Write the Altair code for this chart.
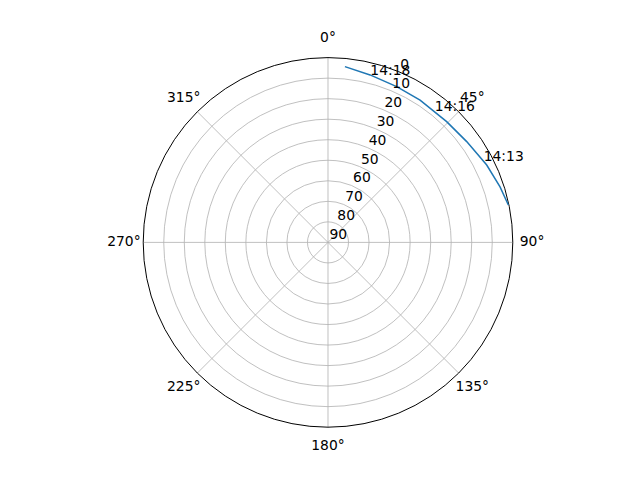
import altair as alt
import pandas as pd

# ---- data ----
# satellite track: azimuth (deg, clockwise from north) and elevation (deg)
track_az = [78.3, 72.1, 64.0, 54.0, 44.5, 32.9, 23.8, 14.1, 5.5]
track_el = [0.3, 1.95, 4.0, 6.5, 7.55, 7.45, 7.1, 5.9, 4.0]

# time annotations along the track
time_labels = ["14:13", "14:16", "14:18"]
time_az = [62.5, 39.2, 14.2]
time_el = [4.5, 7.7, 6.0]

# grid
ring_elevs = [80, 70, 60, 50, 40, 30, 20, 10]
r_tick_values = [0, 10, 20, 30, 40, 50, 60, 70, 80, 90]
theta_ticks = [0, 45, 90, 135, 180, 225, 270, 315]

# ---- layout constants ----
W = 369.6
R_PX = W / 2
FONT = "DejaVu Sans"
FS = 13.9
RLABEL_ANGLE = 22.5
THETA_LABEL_R = 99.4
FULL = 6.2832

xs = alt.Scale(domain=[-90, 90], nice=False, zero=False)
ys = alt.Scale(domain=[-90, 90], nice=False, zero=False)

def X(field):
    return alt.X(field, type="quantitative", scale=xs, axis=None)

def Y(field):
    return alt.Y(field, type="quantitative", scale=ys, axis=None)

track_df = pd.DataFrame({"i": range(len(track_az)), "az": track_az, "el": track_el})
time_df = pd.DataFrame({"label": time_labels, "az": time_az, "el": time_el})
ring_df = pd.DataFrame({"r": [90 - e for e in ring_elevs]})
edge_df = pd.DataFrame({"r": [90]})
rtick_df = pd.DataFrame({"v": r_tick_values})
theta_df = pd.DataFrame({"a": theta_ticks})

rscale = alt.Scale(type="linear", domain=[0, 90], range=[0, R_PX], zero=True)

rings = alt.Chart(ring_df).mark_arc(
    fillOpacity=0, stroke="#b0b0b0", strokeWidth=0.8, theta=0, theta2=FULL
).encode(radius=alt.Radius("r:Q", scale=rscale, stack=False))

spokes = alt.Chart(theta_df).transform_calculate(
    x0="0", y0="0",
    x1="90 * sin(datum.a * PI / 180)",
    y1="90 * cos(datum.a * PI / 180)",
).mark_rule(color="#b0b0b0", strokeWidth=0.8).encode(
    x=X("x0"), y=Y("y0"), x2="x1:Q", y2="y1:Q"
)

edge = alt.Chart(edge_df).mark_arc(
    fillOpacity=0, stroke="black", strokeWidth=1, theta=0, theta2=FULL
).encode(radius=alt.Radius("r:Q", scale=rscale, stack=False))

track = alt.Chart(track_df).transform_calculate(
    x="(90 - datum.el) * sin(datum.az * PI / 180)",
    y="(90 - datum.el) * cos(datum.az * PI / 180)",
).mark_line(color="#1f77b4", strokeWidth=1.5).encode(
    x=X("x"), y=Y("y"), order="i:Q"
)

time_text = alt.Chart(time_df).transform_calculate(
    x="(90 - datum.el) * sin(datum.az * PI / 180)",
    y="(90 - datum.el) * cos(datum.az * PI / 180)",
).mark_text(
    align="left", baseline="alphabetic", font=FONT, fontSize=FS, color="black"
).encode(x=X("x"), y=Y("y"), text="label:N")

rlabels = alt.Chart(rtick_df).transform_calculate(
    x=f"(90 - datum.v) * sin({RLABEL_ANGLE} * PI / 180)",
    y=f"(90 - datum.v) * cos({RLABEL_ANGLE} * PI / 180)",
    t="toString(datum.v)",
).mark_text(
    align="left", baseline="alphabetic", dx=1.5, dy=-3,
    font=FONT, fontSize=FS, color="black"
).encode(x=X("x"), y=Y("y"), text="t:N")

tlabels = alt.Chart(theta_df).transform_calculate(
    x=f"{THETA_LABEL_R} * sin(datum.a * PI / 180)",
    y=f"{THETA_LABEL_R} * cos(datum.a * PI / 180)",
    t="toString(datum.a) + '°'",
).mark_text(
    align="center", baseline="middle", font=FONT, fontSize=FS, color="black"
).encode(x=X("x"), y=Y("y"), text="t:N")

chart = alt.layer(rings, spokes, edge, track, rlabels, time_text, tlabels).properties(
    width=W, height=W,
    autosize=alt.AutoSizeParams(type="none"),
    padding={"left": 135.2, "top": 49.6, "right": 110, "bottom": 40},
).configure_view(strokeWidth=0)

chart.save("out.html", embed_options={"renderer": "svg", "actions": False})
